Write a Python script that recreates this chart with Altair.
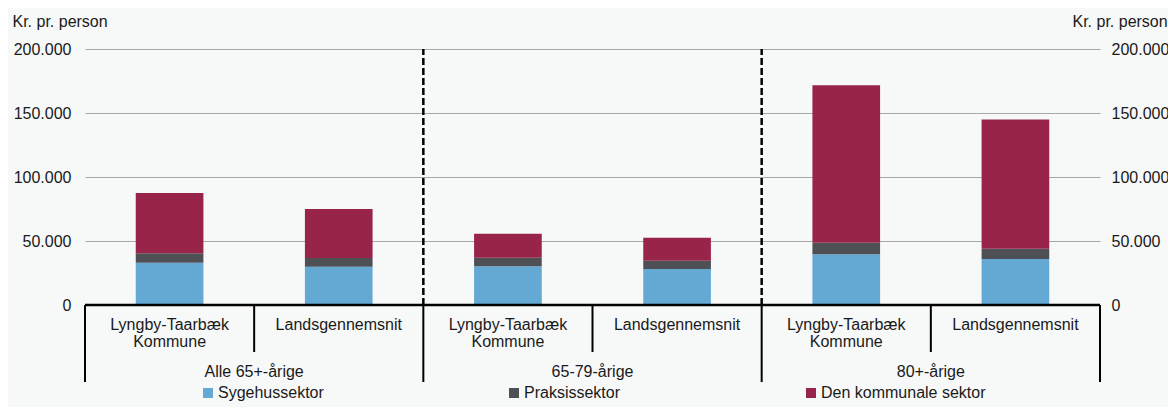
import altair as alt
import pandas as pd

groups = ["Alle 65+-årige", "65-79-årige", "80+-årige"]
areas = ["Lyngby-Taarbæk Kommune", "Landsgennemsnit"]
series = ["Sygehussektor", "Praksissektor", "Den kommunale sektor"]
colors = ["#63A9D4", "#4F5056", "#98244A"]

# one value per bar: Alle(Lyngby, Lands), 65-79(Lyngby, Lands), 80+(Lyngby, Lands)
sygehus = [33000, 29800, 30200, 28100, 39600, 35900]
praksis = [7400, 6900, 6800, 6500, 9100, 8100]
kommunal = [47100, 38300, 18700, 18000, 122900, 101000]
y_ticks = [0, 50000, 100000, 150000, 200000]

TXT = "#1a1a1a"
FS = 16

# ---- build tables ----
rows = []
for i in range(6):
    base = 0
    for k, (s, vals) in enumerate(zip(series, [sygehus, praksis, kommunal])):
        v = vals[i]
        rows.append(dict(left=i + 0.3, right=i + 0.7, series=s, order=k,
                         y0=base, y1=base + v, value=v))
        base += v
bars_df = pd.DataFrame(rows)

cat_df = pd.DataFrame({
    "x": [i + 0.5 for i in range(6)],
    "label": [areas[i % 2] for i in range(6)],
})
grp_df = pd.DataFrame({"x": [2 * g + 1 for g in range(3)], "label": groups})
inner_df = pd.DataFrame({"x": [2 * g + 1 for g in range(3)]})
outer_df = pd.DataFrame({"x": [2 * g for g in range(4)]})
dash_df = pd.DataFrame({"x": [2, 4], "lo": [0, 0], "hi": [200000, 200000]})
base_df = pd.DataFrame({"a": [0], "b": [6]})

xscale = alt.Scale(domain=[0, 6], nice=False, zero=False)
yscale = alt.Scale(domain=[0, 200000], nice=False)
lab_expr = "replace(format(datum.value, ','), ',', '.')"

left_axis = alt.Axis(values=y_ticks, labelExpr=lab_expr, grid=True, gridColor="#A8A8A8",
                     gridWidth=1, domain=False, ticks=False, labelPadding=14,
                     labelFontSize=FS, labelColor=TXT, title="Kr. pr. person",
                     titleAngle=0, titleAlign="left", titleBaseline="alphabetic",
                     titleX=-73, titleY=-23, titleFontWeight="normal",
                     titleFontSize=FS, titleColor=TXT)
right_axis = alt.Axis(values=y_ticks, labelExpr=lab_expr, grid=False, orient="right",
                      domain=False, ticks=False, labelPadding=11,
                      labelFontSize=FS, labelColor=TXT, title="Kr. pr. person",
                      titleAngle=0, titleAlign="left", titleBaseline="alphabetic",
                      titleX=-28, titleY=-23, titleFontWeight="normal",
                      titleFontSize=FS, titleColor=TXT)

bars = alt.Chart(bars_df).mark_bar().encode(
    x=alt.X("left:Q", scale=xscale, axis=None),
    x2="right:Q",
    y=alt.Y("y0:Q", scale=yscale, axis=left_axis),
    y2="y1:Q",
    color=alt.Color("series:N", scale=alt.Scale(domain=series, range=colors),
                    sort=series,
                    legend=alt.Legend(orient="none", legendX=115, legendY=336,
                                      direction="horizontal", title=None,
                                      symbolType="square", symbolSize=100,
                                      symbolStrokeWidth=0, labelFontSize=FS,
                                      labelOffset=2, columnPadding=182,
                                      labelColor=TXT, labelLimit=400)),
)

dashes = alt.Chart(dash_df).mark_rule(color="black", strokeWidth=2.5, strokeDash=[7, 3]).encode(
    x=alt.X("x:Q", scale=xscale, axis=None),
    y=alt.Y("lo:Q", scale=yscale, axis=right_axis),
    y2="hi:Q",
)

baseline = alt.Chart(base_df).mark_rule(color="black", strokeWidth=2.5).encode(
    x=alt.X("a:Q", scale=xscale, axis=None), x2="b:Q", y=alt.value(256),
)
inner = alt.Chart(inner_df).mark_rule(color="black", strokeWidth=2).encode(
    x=alt.X("x:Q", scale=xscale, axis=None), y=alt.value(256), y2=alt.value(303),
)
outer = alt.Chart(outer_df).mark_rule(color="black", strokeWidth=2).encode(
    x=alt.X("x:Q", scale=xscale, axis=None), y=alt.value(256), y2=alt.value(333),
)
cat_text = alt.Chart(cat_df).mark_text(fontSize=FS, lineBreak=" ", lineHeight=17,
                                       baseline="alphabetic", align="center", color=TXT).encode(
    x=alt.X("x:Q", scale=xscale, axis=None), y=alt.value(281), text="label:N",
)
grp_text = alt.Chart(grp_df).mark_text(fontSize=FS, baseline="alphabetic",
                                       align="center", color=TXT).encode(
    x=alt.X("x:Q", scale=xscale, axis=None), y=alt.value(328), text="label:N",
)

chart = alt.layer(bars, dashes, baseline, inner, outer, cat_text, grp_text).resolve_axis(
    y="independent"
).properties(
    width=1015, height=256,
    autosize=alt.AutoSizeParams(type="none"),
    padding={"left": 77, "top": 41, "right": 68, "bottom": 102},
    background="#F7F8F8",
).configure(font="Liberation Sans").configure_view(stroke=None)

chart.save("out.html", embed_options={"renderer": "svg", "actions": False})
